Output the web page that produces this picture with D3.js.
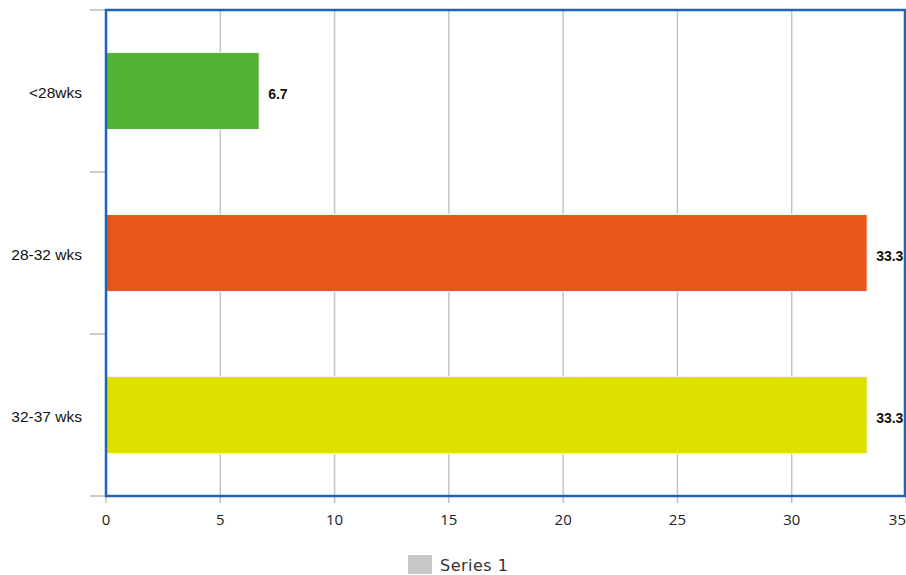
<!DOCTYPE html>
<html>
<head>
<meta charset="utf-8">
<script src="https://cdn.jsdelivr.net/npm/d3@7"></script>
<style>
  html, body { margin: 0; padding: 0; background: #fff; overflow: hidden; }
  svg { display: block; }
</style>
</head>
<body>
<svg id="chart" width="906" height="575"></svg>
<script>
const categories = ["<28wks", "28-32 wks", "32-37 wks"];
const values = [6.7, 33.3, 33.3];
const barColors = ["#52b232", "#e8561c", "#dee000"];
const xTicks = [0, 5, 10, 15, 20, 25, 30, 35];
const seriesName = "Series 1";

const svg = d3.select("#chart");
const margin = { left: 106, top: 10, right: 905, bottom: 496 };

const x = d3.scaleLinear().domain([0, 35]).range([margin.left, margin.left + 800]);
const y = d3.scaleBand().domain(categories).range([margin.top, margin.bottom]).paddingInner(0.525).paddingOuter(0.2625);
const yOuter = d3.scaleBand().domain(categories).range([margin.top, margin.bottom]);

// gridlines
svg.append("g").selectAll("line")
  .data(xTicks.filter(t => t > 0 && t < 35))
  .join("line")
  .attr("x1", d => x(d)).attr("x2", d => x(d))
  .attr("y1", margin.top).attr("y2", margin.bottom)
  .attr("stroke", "#c4c4c4").attr("stroke-width", 1.5);

// y-axis category ticks (outside left)
const yTickPos = [margin.top].concat(categories.map(c => yOuter(c) + yOuter.bandwidth()));
svg.append("g").selectAll("line")
  .data(yTickPos)
  .join("line")
  .attr("x1", margin.left - 16).attr("x2", margin.left)
  .attr("y1", d => d).attr("y2", d => d)
  .attr("stroke", "#bdbdbd").attr("stroke-width", 1.5);

// x-axis ticks below
svg.append("g").selectAll("line")
  .data(xTicks)
  .join("line")
  .attr("x1", d => x(d)).attr("x2", d => x(d))
  .attr("y1", margin.bottom).attr("y2", margin.bottom + 7)
  .attr("stroke", "#bdbdbd").attr("stroke-width", 1.5);

// bars
svg.append("g").selectAll("rect")
  .data(categories)
  .join("rect")
  .attr("x", x(0))
  .attr("y", d => y(d))
  .attr("width", (d, i) => x(values[i]) - x(0))
  .attr("height", y.bandwidth())
  .attr("fill", (d, i) => barColors[i])
  .attr("stroke", "#f4f4f4").attr("stroke-width", 1);

// value labels
svg.append("g").selectAll("text")
  .data(categories)
  .join("text")
  .attr("x", (d, i) => x(values[i]) + 9)
  .attr("y", d => y(d) + y.bandwidth() / 2 + 3)
  .attr("dy", "0.35em")
  .attr("font-family", "Liberation Sans, Arial, sans-serif")
  .attr("font-weight", "bold")
  .attr("font-size", 14)
  .attr("fill", "#111")
  .text((d, i) => values[i].toFixed(1));

// category labels
svg.append("g").selectAll("text")
  .data(categories)
  .join("text")
  .attr("x", 82)
  .attr("y", d => y(d) + y.bandwidth() / 2 + 1.5)
  .attr("dy", "0.35em")
  .attr("text-anchor", "end")
  .attr("font-family", "Liberation Sans, Arial, sans-serif")
  .attr("font-size", 15.5)
  .attr("fill", "#111")
  .text(d => d);

// x tick labels
svg.append("g").selectAll("text")
  .data(xTicks)
  .join("text")
  .attr("x", d => x(d))
  .attr("y", 520)
  .attr("dy", "0.35em")
  .attr("text-anchor", (d, i) => i === xTicks.length - 1 ? "end" : "middle")
  .attr("font-family", "Open Sans, sans-serif")
  .attr("font-size", 15)
  .attr("fill", "#222")
  .text(d => d);

// plot border
svg.append("rect")
  .attr("x", margin.left).attr("y", margin.top)
  .attr("width", margin.right - margin.left)
  .attr("height", margin.bottom - margin.top)
  .attr("fill", "none")
  .attr("stroke", "#1f64b8").attr("stroke-width", 2.5);

// legend
const lg = svg.append("g");
lg.append("rect").attr("x", 408).attr("y", 555).attr("width", 24).attr("height", 19).attr("fill", "#c8c8c8");
lg.append("text").attr("x", 440).attr("y", 571)
  .attr("font-family", "DejaVu Sans, sans-serif")
  .attr("font-size", 16)
  .attr("letter-spacing", 0.5)
  .attr("fill", "#333")
  .text(seriesName);
</script>
</body>
</html>
